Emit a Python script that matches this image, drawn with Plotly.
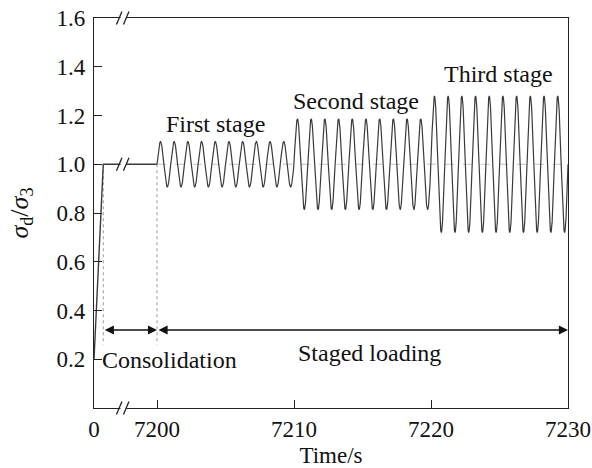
import numpy as np
import plotly.graph_objects as go

# ---------------- data ----------------
consol_time = [0, 600, 7200]          # s (consolidation: ramp then hold)
consol_ratio = [0.2, 1.0, 1.0]
stage_names = ["First stage", "Second stage", "Third stage"]
stage_start = [7200, 7210, 7220]      # s
stage_end = [7210, 7220, 7230]        # s
stage_amp = [0.093, 0.186, 0.28]      # amplitude of sigma_d/sigma_3
load_freq = 1.0                       # Hz
mean_ratio = 1.0
x_tick_times = [0, 7200, 7210, 7220, 7230]
x_tick_text = ["0", "7200", "7210", "7220", "7230"]
y_ticks = [0.2, 0.4, 0.6, 0.8, 1.0, 1.2, 1.4, 1.6]
arrow_level = 0.32
dotted_bottom = 0.26

# ---------------- broken axis mapping ----------------
LEFT_REAL_END = 2000.0   # real seconds shown left of the break
AX_MIN = -4.6            # axis unit of t = 0
BREAK_POS = -2.34        # axis unit of the break


def to_axis(t):
    t = np.asarray(t, dtype=float)
    return np.where(t <= LEFT_REAL_END,
                    AX_MIN + t / LEFT_REAL_END * (BREAK_POS - AX_MIN),
                    t - 7200.0)


# cyclic loading waveform built from stage parameters
t_load = np.linspace(stage_start[0], stage_end[-1], 6001)
r_load = np.full_like(t_load, mean_ratio)
for s0, s1, a in zip(stage_start, stage_end, stage_amp):
    m = (t_load >= s0) & (t_load <= s1)
    r_load[m] = mean_ratio + a * np.sin(2 * np.pi * load_freq * (t_load[m] - s0))

FONT = "Liberation Serif"
FS = 23
FA = 24
CURVE = "#3a3a3a"

fig = go.Figure()

# reference mean line (dashed gray)
fig.add_trace(go.Scatter(x=to_axis([stage_start[0], stage_end[-1]]),
                         y=[mean_ratio, mean_ratio], mode="lines",
                         line=dict(color="#c4c4c4", width=1.2, dash="dash"),
                         hoverinfo="skip"))
# dotted vertical markers
for tt in [consol_time[1], consol_time[2]]:
    fig.add_trace(go.Scatter(x=to_axis([tt, tt]), y=[mean_ratio, dotted_bottom],
                             mode="lines",
                             line=dict(color="#9a9a9a", width=1, dash="dot"),
                             hoverinfo="skip"))
# consolidation
fig.add_trace(go.Scatter(x=to_axis(consol_time), y=consol_ratio, mode="lines",
                         line=dict(color=CURVE, width=1.4)))
# cyclic loading
fig.add_trace(go.Scatter(x=to_axis(t_load), y=r_load, mode="lines",
                         line=dict(color=CURVE, width=1.2)))

# stage labels
label_pos = [(7204.25, 1.165), (7214.5, 1.26), (7224.9, 1.37)]
for name, (lx, ly) in zip(stage_names, label_pos):
    fig.add_annotation(x=float(to_axis(lx)), y=ly, text=name, showarrow=False,
                       font=dict(size=FA, color="#111", family=FONT))

# arrows
for a0, a1 in [(consol_time[1], consol_time[2]), (stage_start[0], stage_end[-1])]:
    fig.add_annotation(x=float(to_axis(a1)), y=arrow_level,
                       ax=float(to_axis(a0)), ay=arrow_level,
                       xref="x", yref="y", axref="x", ayref="y",
                       text="", showarrow=True, arrowhead=2, startarrowhead=2,
                       arrowside="end+start", arrowsize=1.4, startarrowsize=1.4,
                       arrowwidth=1.3, arrowcolor="#111")
fig.add_annotation(x=float(to_axis(consol_time[1])), y=0.195, text="Consolidation",
                   showarrow=False, xanchor="left", xshift=-3,
                   font=dict(size=FA, color="#111", family=FONT))
fig.add_annotation(x=float(to_axis(7215.5)), y=0.225, text="Staged loading",
                   showarrow=False,
                   font=dict(size=FA, color="#111", family=FONT))

# break marks
def break_mark(yref, yanchor):
    fig.add_shape(type="rect", xref="x", yref=yref, xsizemode="pixel",
                  ysizemode="pixel", xanchor=BREAK_POS, yanchor=yanchor,
                  x0=-4.5, x1=1.5, y0=-2, y1=2, fillcolor="white",
                  line=dict(width=0), layer="above")
    for dx in (-8.5, -1.5):
        fig.add_shape(type="line", xref="x", yref=yref, xsizemode="pixel",
                      ysizemode="pixel", xanchor=BREAK_POS, yanchor=yanchor,
                      x0=dx, x1=dx + 5.5, y0=-6.5, y1=6.5,
                      line=dict(color="#222", width=1.3), layer="above")

break_mark("paper", 0)
break_mark("paper", 1)
break_mark("y", mean_ratio)

fig.update_layout(
    width=592, height=468,
    margin=dict(l=94, r=24, t=18, b=60, autoexpand=False),
    paper_bgcolor="white", plot_bgcolor="white",
    showlegend=False,
    font=dict(family=FONT, size=FS, color="#111"),
)
fig.update_xaxes(range=[AX_MIN, 30], tickmode="array",
                 tickvals=to_axis(x_tick_times).tolist(), ticktext=x_tick_text,
                 ticks="inside", ticklen=8, tickwidth=1.2, tickcolor="#222",
                 showline=True, linecolor="#222", linewidth=1.4, mirror=True,
                 showgrid=False, zeroline=False, automargin=False,
                 title=dict(text="Time/s", standoff=6,
                            font=dict(family=FONT, size=FS, color="#111")),
                 tickfont=dict(family=FONT, size=FS, color="#111"))
fig.update_yaxes(range=[0, 1.6], tickmode="array", tickvals=y_ticks,
                 ticktext=[f"{v:.1f}" for v in y_ticks],
                 ticks="inside", ticklen=8, tickwidth=1.2, tickcolor="#222",
                 showline=True, linecolor="#222", linewidth=1.4, mirror=True,
                 showgrid=False, zeroline=False, automargin=False,
                 ticklabelstandoff=3,
                 title=dict(text="<i>σ</i><sub>d</sub>/<i>σ</i><sub>3</sub>", standoff=20,
                            font=dict(family=FONT, size=26, color="#111")),
                 tickfont=dict(family=FONT, size=FS, color="#111"))

fig.write_html("out.html")
